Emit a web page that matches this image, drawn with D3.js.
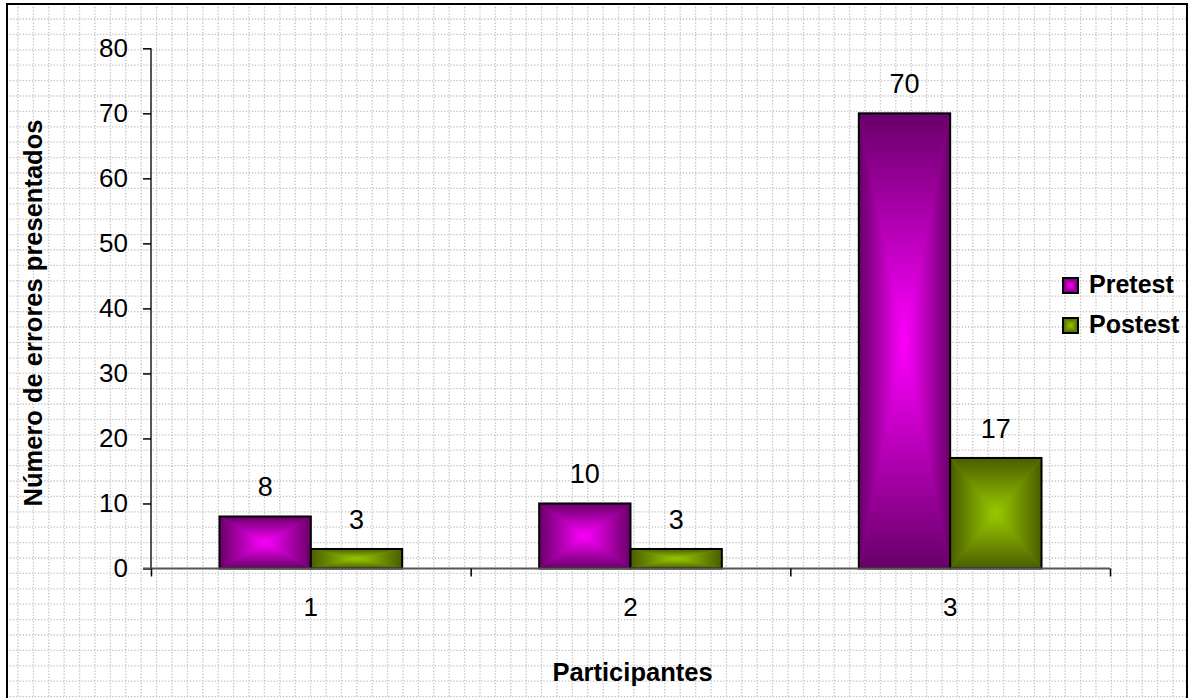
<!DOCTYPE html>
<html>
<head>
<meta charset="utf-8">
<script src="https://cdn.jsdelivr.net/npm/d3@7"></script>
<style>
  html, body { margin: 0; padding: 0; background: #ffffff; }
  svg { display: block; font-family: "Liberation Sans", Arial, sans-serif; }
</style>
</head>
<body>
<svg id="chart" width="1190" height="698"></svg>
<script>
// Errors per participant, before and after the intervention
const participants = ["1", "2", "3"];
const seriesNames = ["Pretest", "Postest"];
const pretest = [8, 10, 70];
const postest = [3, 3, 17];
const yTickValues = [0, 10, 20, 30, 40, 50, 60, 70, 80];

const seriesValues = [pretest, postest];
// [edge colour, centre colour] for the bevelled "from centre" fill
const seriesColors = [["#680068", "#ff00ff"], ["#4a5d00", "#99cc00"]];

const W = 1190, H = 698;
const plot = { left: 151, right: 1110, top: 48.3, bottom: 568.5 };

const svg = d3.select("#chart");
const defs = svg.append("defs");

// ---- dotted background grid inside the chart frame ----
const frame = { x: 7, y: 4, w: 1180, h: 720 };
defs.append("clipPath").attr("id", "frameClip")
  .append("rect").attr("x", frame.x).attr("y", frame.y).attr("width", frame.w).attr("height", frame.h);

const grid = svg.append("g").attr("clip-path", "url(#frameClip)")
  .attr("stroke", "#c2c2c2").attr("stroke-width", 1.3).attr("stroke-dasharray", "1.3 1.8");
const pitch = 15.4;
d3.range(18, W, pitch).forEach(x => {
  grid.append("line").attr("x1", x).attr("x2", x).attr("y1", frame.y).attr("y2", H);
});
d3.range(19, H, pitch).forEach(y => {
  grid.append("line").attr("x1", frame.x).attr("x2", W).attr("y1", y).attr("y2", y);
});

svg.append("rect").attr("x", frame.x).attr("y", frame.y).attr("width", frame.w).attr("height", frame.h)
  .attr("fill", "none").attr("stroke", "#000").attr("stroke-width", 2);

// ---- gradients: four linear pieces meeting in the middle ----
seriesNames.forEach((name, i) => {
  const [edge, centre] = seriesColors[i];
  const dirs = {
    top:    [0, 0, 0, 1],
    bottom: [0, 1, 0, 0],
    left:   [0, 0, 1, 0],
    right:  [1, 0, 0, 0]
  };
  Object.entries(dirs).forEach(([k, d]) => {
    const lg = defs.append("linearGradient").attr("id", `g${i}-${k}`)
      .attr("x1", d[0]).attr("y1", d[1]).attr("x2", d[2]).attr("y2", d[3]);
    lg.append("stop").attr("offset", 0).attr("stop-color", edge);
    lg.append("stop").attr("offset", 1).attr("stop-color", centre);
  });
});

function bevelRect(g, x0, y0, x1, y1, i, strokeW) {
  const cx = (x0 + x1) / 2, cy = (y0 + y1) / 2;
  const mid = d3.interpolateRgb(seriesColors[i][0], seriesColors[i][1])(0.5);
  g.append("rect").attr("x", x0).attr("y", y0).attr("width", x1 - x0).attr("height", y1 - y0).attr("fill", mid);
  const pieces = {
    top:    [[x0, y0], [x1, y0], [cx, cy]],
    bottom: [[x0, y1], [x1, y1], [cx, cy]],
    left:   [[x0, y0], [x0, y1], [cx, cy]],
    right:  [[x1, y0], [x1, y1], [cx, cy]]
  };
  Object.entries(pieces).forEach(([k, pts]) => {
    g.append("polygon").attr("points", pts.map(p => p.join(",")).join(" "))
      .attr("fill", `url(#g${i}-${k})`);
  });
  g.append("rect").attr("x", x0).attr("y", y0).attr("width", x1 - x0).attr("height", y1 - y0)
    .attr("fill", "none").attr("stroke", "#000").attr("stroke-width", strokeW);
}

// ---- scales ----
const x = d3.scaleBand().domain(participants).range([plot.left, plot.right]).paddingInner(0).paddingOuter(0);
// gap width 150%: two bars share band / 3.5 each
const barW = x.bandwidth() / 3.5;
const y = d3.scaleLinear().domain([0, 80]).range([plot.bottom, plot.top]);

// ---- bars ----
const barsG = svg.append("g");
participants.forEach((p, ci) => {
  const groupStart = x(p) + (x.bandwidth() - 2 * barW) / 2;
  seriesValues.forEach((vals, si) => {
    const v = vals[ci];
    const x0 = groupStart + si * barW, x1 = x0 + barW;
    bevelRect(barsG, x0, y(v), x1, y(0), si, 2);
  });
});

// ---- axes ----
const yAxis = svg.append("g").attr("transform", `translate(${plot.left},0)`)
  .call(d3.axisLeft(y).tickValues(yTickValues).tickSize(8).tickPadding(15).tickFormat(d3.format("d")));
yAxis.select(".domain").attr("stroke", "#555").attr("stroke-width", 2).attr("d", `M0,${plot.top}V${plot.bottom}`);
yAxis.selectAll(".tick line").attr("stroke", "#000").attr("stroke-width", 1.5);
yAxis.selectAll(".tick text").attr("font-size", 26).attr("fill", "#000")
  .attr("font-family", "'Liberation Sans', Arial, sans-serif");

const xEdge = d3.scaleLinear().domain([0, participants.length]).range([plot.left, plot.right]);
const xTicks = svg.append("g").attr("transform", `translate(0,${plot.bottom})`)
  .call(d3.axisBottom(xEdge).tickValues(d3.range(0, participants.length + 1)).tickSize(8).tickFormat(""));
xTicks.select(".domain").attr("stroke", "#555").attr("stroke-width", 2).attr("d", `M${plot.left - 8},0H${plot.right}`);
xTicks.selectAll(".tick line").attr("stroke", "#000").attr("stroke-width", 1.5);

const xLabels = svg.append("g").attr("transform", `translate(0,${plot.bottom})`)
  .call(d3.axisBottom(x).tickSize(0).tickPadding(29));
xLabels.select(".domain").remove();
xLabels.selectAll(".tick text").attr("font-size", 26).attr("fill", "#000")
  .attr("font-family", "'Liberation Sans', Arial, sans-serif");

// ---- value labels ----
const labG = svg.append("g").attr("font-size", 27).attr("text-anchor", "middle").attr("fill", "#000");
participants.forEach((p, ci) => {
  const groupStart = x(p) + (x.bandwidth() - 2 * barW) / 2;
  seriesValues.forEach((vals, si) => {
    const v = vals[ci];
    labG.append("text").attr("x", groupStart + si * barW + barW / 2).attr("y", y(v) - 20).text(v);
  });
});

// ---- axis titles ----
svg.append("text").attr("transform", "translate(42,313) rotate(-90)")
  .attr("text-anchor", "middle").attr("font-size", 25.5).attr("font-weight", "bold")
  .text("Número de errores presentados");
svg.append("text").attr("x", 632.5).attr("y", 681)
  .attr("text-anchor", "middle").attr("font-size", 25.5).attr("font-weight", "bold")
  .text("Participantes");

// ---- legend ----
const legend = svg.append("g");
seriesNames.forEach((name, i) => {
  const ly = 278 + i * 40;
  bevelRect(legend, 1063, ly, 1078, ly + 15, i, 2);
  legend.append("text").attr("x", 1089).attr("y", ly + 15)
    .attr("font-size", 25).attr("font-weight", "bold").text(name);
});
</script>
</body>
</html>
